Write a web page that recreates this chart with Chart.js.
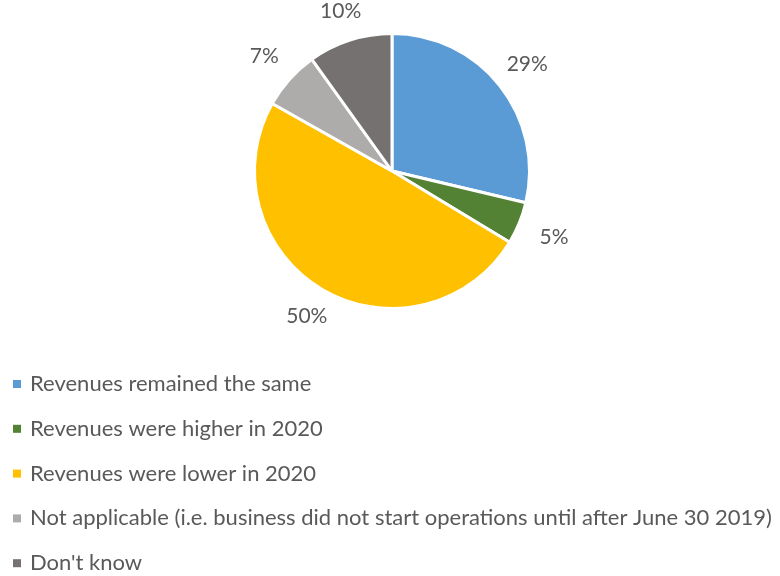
<!DOCTYPE html>
<html>
<head>
<meta charset="utf-8">
<script src="https://cdn.jsdelivr.net/npm/chart.js@4.4.1/dist/chart.umd.min.js"></script>
<style>
  html, body { margin: 0; padding: 0; background: #ffffff; }
  #wrap { width: 780px; height: 576px; position: relative; }
</style>
</head>
<body>
<div id="wrap"><canvas id="revenueChart" width="780" height="576"></canvas></div>
<script>
const categories = [
  "Revenues remained the same",
  "Revenues were higher in 2020",
  "Revenues were lower in 2020",
  "Not applicable (i.e. business did not start operations until after June 30 2019)",
  "Don't know",
];
const shares = [29, 5, 50, 7, 10];
const sliceColors = ["#5B9BD5", "#548235", "#FFC000", "#AEABAB", "#767171"];

const textColor = "#595959";
const fontFamily = "Lato, 'Open Sans', sans-serif";

// percentage labels just outside each slice; the text box sits a fixed gap
// beyond the rim along the slice's middle angle
const outsideLabels = {
  id: "outsideLabels",
  afterDatasetsDraw(chart) {
    const { ctx } = chart;
    const meta = chart.getDatasetMeta(0);
    const gap = 22;
    const boxH = 16;
    ctx.save();
    ctx.font = "21px " + fontFamily;
    ctx.fillStyle = textColor;
    ctx.textAlign = "center";
    ctx.textBaseline = "middle";
    meta.data.forEach((arc, i) => {
      const text = shares[i] + "%";
      const boxW = ctx.measureText(text).width;
      const mid = (arc.startAngle + arc.endAngle) / 2;
      const c = Math.abs(Math.cos(mid)) || 1e-6;
      const s = Math.abs(Math.sin(mid)) || 1e-6;
      const edge = Math.min(boxW / 2 / c, boxH / 2 / s);
      const dist = arc.outerRadius + gap + edge;
      const x = arc.x + Math.cos(mid) * dist;
      const y = arc.y + Math.sin(mid) * dist;
      ctx.fillText(text, x, y);
    });
    ctx.restore();
  },
};

// one legend entry per line, left aligned under the pie
const stackedLegend = {
  id: "stackedLegend",
  afterDraw(chart) {
    const { ctx } = chart;
    const top = 384;
    const step = 44.8;
    ctx.save();
    ctx.font = "22px " + fontFamily;
    ctx.textBaseline = "middle";
    ctx.textAlign = "left";
    categories.forEach((label, i) => {
      const y = top + i * step;
      ctx.fillStyle = sliceColors[i];
      ctx.fillRect(13, y - 4, 8, 8);
      ctx.fillStyle = textColor;
      ctx.fillText(label, 30, y);
    });
    ctx.restore();
  },
};

new Chart(document.getElementById("revenueChart").getContext("2d"), {
  type: "pie",
  data: {
    labels: categories,
    datasets: [
      {
        data: shares,
        backgroundColor: sliceColors,
        borderColor: "#ffffff",
        borderWidth: 3,
      },
    ],
  },
  options: {
    responsive: false,
    animation: false,
    layout: {
      padding: { top: 32, bottom: 266, left: 4, right: 0 },
    },
    plugins: {
      legend: { display: false },
      tooltip: { enabled: false },
    },
  },
  plugins: [outsideLabels, stackedLegend],
});
</script>
</body>
</html>
